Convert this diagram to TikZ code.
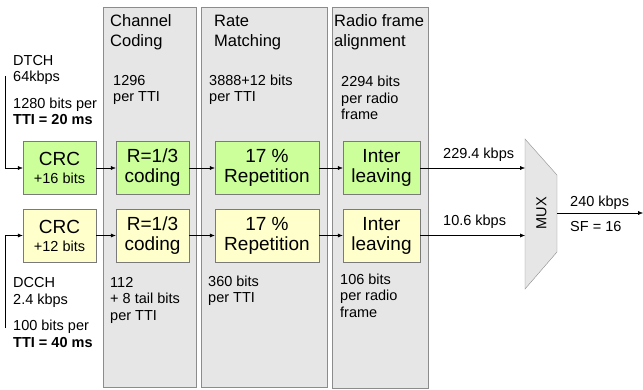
\documentclass[tikz,border=0pt]{standalone}
\usepackage{fontspec}
\setmainfont{Liberation Sans}
\usetikzlibrary{arrows.meta}
\definecolor{panelgray}{HTML}{E6E6E6}
\definecolor{panelline}{HTML}{8C8C8C}
\definecolor{boxgreen}{HTML}{CCFF99}
\definecolor{boxyellow}{HTML}{FFFFCC}
\definecolor{boxline}{HTML}{7A7A7A}

\begin{document}
\begin{tikzpicture}[x=1pt,y=-1pt,
  panel/.style={draw=panelline,fill=panelgray},
  blk/.style={draw=boxline,minimum height=53pt,inner sep=0pt,align=center,
    font=\fontsize{19}{20}\selectfont},
  dtchbox/.style={blk,fill=boxgreen},
  dcchbox/.style={blk,fill=boxyellow},
  lbl/.style={inner sep=0pt,anchor=base west,align=left,
    font=\fontsize{14.5}{16.5}\selectfont},
  head/.style={inner sep=0pt,anchor=base west,align=left,
    font=\fontsize{16.5}{20}\selectfont},
  flow/.style={-{Latex[length=5pt,width=4pt]}}]
\useasboundingbox (0,0) rectangle (643,390);

% processing steps
\draw[panel] (103,7) rectangle (196,387);
\draw[panel] (201,7) rectangle (327,387);
\draw[panel] (332,7) rectangle (428,388);
\node[head] (hcod) at (110,47) {Channel\\Coding};
\node[head] (hrate) at (214,47) {Rate\\Matching};
\node[head] (hrad) at (334,47) {Radio frame\\alignment};

% DTCH chain
\node[dtchbox,minimum width=73pt] (crcA) at (59.5,168) {CRC\\[-2pt]{\fontsize{14.5}{16}\selectfont +16 bits}};
\node[dtchbox,minimum width=73pt] (codA) at (152.5,168) {R=1/3\\coding};
\node[dtchbox,minimum width=104pt] (repA) at (267,168) {17 \%\\Repetition};
\node[dtchbox,minimum width=77pt] (intA) at (381.5,168) {Inter\\leaving};

% DCCH chain
\node[dcchbox,minimum width=73pt] (crcB) at (59.5,235.5) {CRC\\[-2pt]{\fontsize{14.5}{16}\selectfont +12 bits}};
\node[dcchbox,minimum width=73pt] (codB) at (152.5,235.5) {R=1/3\\coding};
\node[dcchbox,minimum width=104pt] (repB) at (267,235.5) {17 \%\\Repetition};
\node[dcchbox,minimum width=77pt] (intB) at (381.5,235.5) {Inter\\leaving};

% multiplexer
\draw[panel] (525,139) -- (557,175) -- (557,252) -- (525,289) -- cycle;
\node[rotate=90,inner sep=0pt,font=\fontsize{14.5}{16}\selectfont] (mux) at (541.5,213) {MUX};
\coordinate (muxA) at (525,168);
\coordinate (muxB) at (525,235.5);
\coordinate (muxO) at (557,213);
\coordinate (outO) at (643,213);
\coordinate (inA) at (5,76);
\coordinate (inB) at (5,328);

\draw[flow] (inA) |- (crcA);
\draw[flow] (crcA) -- (codA);
\draw[flow] (codA) -- (repA);
\draw[flow] (repA) -- (intA);
\draw[flow] (intA) -- (muxA);
\draw[flow] (inB) |- (crcB);
\draw[flow] (crcB) -- (codB);
\draw[flow] (codB) -- (repB);
\draw[flow] (repB) -- (intB);
\draw[flow] (intB) -- (muxB);
\draw[flow] (muxO) -- (outO);

% rates and block sizes
\node[lbl] (tA) at (13,125) {DTCH\\64kbps\\[10pt]1280 bits per\\\textbf{TTI = 20 ms}};
\node[lbl] (cA) at (113,102) {1296\\per TTI};
\node[lbl] (rA) at (209,102) {3888+12 bits\\per TTI};
\node[lbl] (fA) at (341,120) {2294 bits\\per radio\\frame};
\node[lbl] (tB) at (13,347) {DCCH\\2.4 kbps\\[10pt]100 bits per\\\textbf{TTI = 40 ms}};
\node[lbl] (cB) at (110,320) {112\\+ 8 tail bits\\per TTI};
\node[lbl] (rB) at (208,303) {360 bits\\per TTI};
\node[lbl] (fB) at (340,317) {106 bits\\per radio\\frame};
\node[lbl] (kA) at (443,159) {229.4 kbps};
\node[lbl] (kB) at (443,226) {10.6 kbps};
\node[lbl] (kO) at (570,207) {240 kbps};
\node[lbl] (sf) at (570,232) {SF = 16};
\end{tikzpicture}
\end{document}
